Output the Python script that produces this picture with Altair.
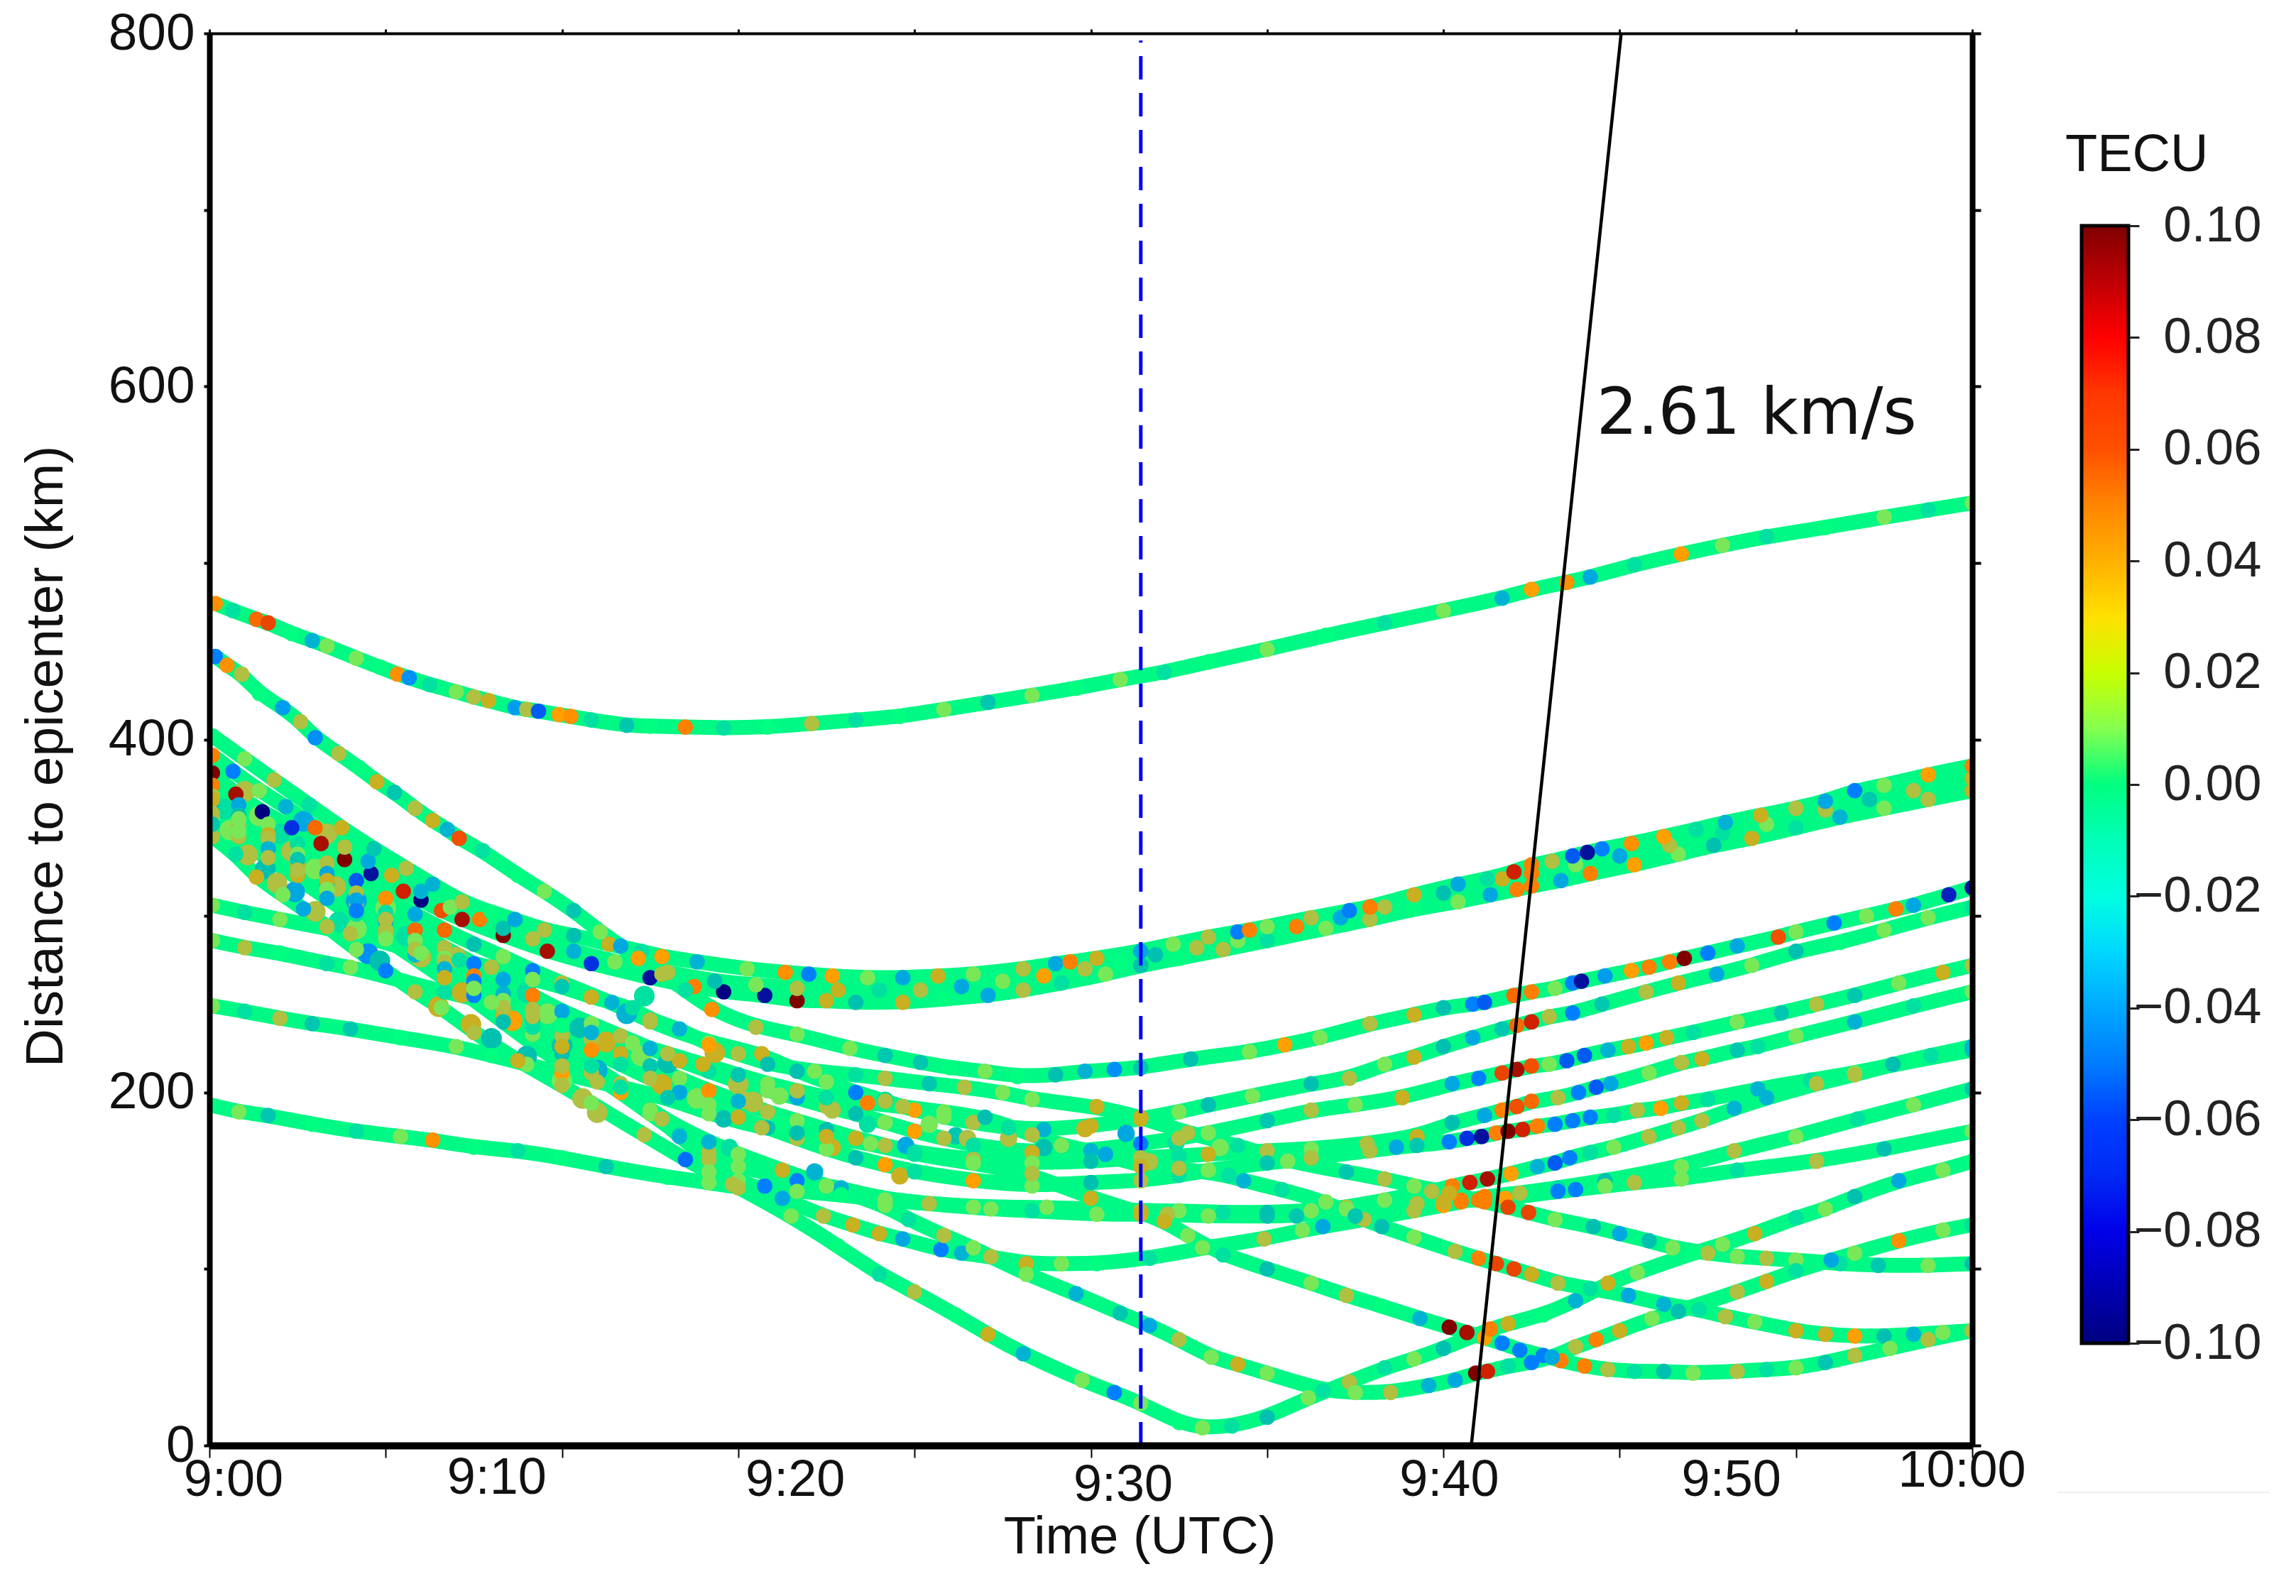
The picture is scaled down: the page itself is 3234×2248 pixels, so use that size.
import altair as alt
import pandas as pd

FONT = "Liberation Sans"
X_TICKS = [0, 6, 12, 18, 24, 30, 36, 42, 48, 54, 60]
Y_TICKS = [0, 100, 200, 300, 400, 500, 600, 700, 800]
BAR_TICKS = [-0.10, -0.08, -0.06, -0.04, -0.02, 0.00, 0.02, 0.04, 0.06, 0.08, 0.10]
BAR_STOPS = [-0.10, -0.08, -0.06, -0.04, -0.02, 0.00, 0.02, 0.03, 0.04, 0.06, 0.08, 0.10]
BAR_COLORS = ["#000080", "#0000e8", "#0040ff", "#00a8ff", "#00ffe0", "#00ff80", "#c8ff00",
              "#ffe000", "#ffb000", "#ff5000", "#ff0000", "#800000"]
DOT_STOPS = [-0.10, -0.07, -0.05, -0.035, -0.022, -0.012, 0.0, 0.012, 0.022, 0.03, 0.04, 0.05, 0.06, 0.08, 0.10]
DOT_COLORS = ["#000080", "#0030e0", "#0080ff", "#00a8e0", "#00c0b0", "#00e0a0", "#00ff80", "#78e858",
              "#b0c040", "#c8b020", "#ffa000", "#ff8000", "#f05000", "#d02000", "#800000"]

X_LABELS = ["9:00", "9:10", "9:20", "9:30", "9:40", "9:50", "10:00"]
X_LABEL_MIN = [0.82, 9.78, 19.94, 31.1, 42.2, 51.8, 59.65]
X_LABEL_KM = [-19.7, -18.5, -19.7, -22.5, -19.7, -19.7, -14.5]

A = [(0.2,477,.045),(0.8,473,-.012),(1.6,468,.055),(2.0,466,.065),(2.8,460,0),(3.5,456,-.03),(4.0,453,.012),(5.0,446,.012),(5.8,441,0),(6.4,437,.045),(6.8,435,-.045),(7.5,431,-.012),(8.4,427,.012),(9.0,424,.022),(9.5,422,.03),(10.4,418,-.04),(10.8,417,.022),(11.2,416,-.06),(11.9,414,.04),(12.3,413,.045),(13.0,411,-.012),(14.2,408,-.02),(15.0,407.5,0),(16.2,407,.05),(17.5,406.5,-.012),(19,407,0),(20.5,409,.022),(22,411,-.012),(23.5,413,0),(25,417,.012),(26.5,421,-.02),(28,425,.012),(29.5,429,0),(31,434,.012),(32.5,438,-.012),(34,444,0),(36,451,.012),(38,459,0),(40,466,-.012),(42,473,.012),(44,480,-.03),(45,485,.04),(46.2,489,.045),(47,492,-.035),(48.5,499,-.012),(50.1,505,.04),(51.5,510,.012),(53,515,-.012),(55,520,0),(57,526,.012),(58.5,530,-.012),(60,534,.012)]
T1B = [(0.1,381,.1),(0.9,369,.09),(1.8,359,-.1),(2.8,350,-.07),(3.8,341,.09),(4.6,332,.1),(5.5,324,-.09),(6.6,314,.08),(7.2,309,-.1),(7.9,303,.06),(8.6,298,.09),(10,289,.1),(11.5,280,.09),(13,273,-.07),(15,265,-.09),(16.5,260,.05),(17.5,257,-.1),(18.9,255,-.09),(20,252,.1),(21,252,.03),(22,251,-.022),(23.6,251,.03),(25,253,0),(26.5,255,-.035),(27.7,258,.022),(29,262,-.012),(30.5,267,.012),(31.7,272,-.022),(33,276,0),(34.5,281,.022),(36,286,-.012),(38,293,.012),(39.5,298,.022),(41,304,0),(42.5,308,.012),(43.6,312,-.035),(44.5,315,.05),(45,317,.05),(46,320,-.035),(47,324,.05),(48.5,329,.04),(50,335,.012),(51.2,340,-.022),(52.5,344,.03),(54,350,-.012),(55.5,356,-.03),(57,361,.012),(58.5,366,.022),(60,371,.03)]
T1A = [(0.1,402,0),(1.2,389,.012),(2.2,377,.022),(3.4,363,-.012),(4.5,350,.03),(5.6,338,-.02),(6.7,327,.022),(7.6,318,-.03),(8.6,308,.022),(9.6,302,0),(10.4,298,-.035),(11.4,292,.022),(12.4,289,-.022),(13.6,284,.03),(14.7,280,-.012),(15.4,277,.04),(16.6,274,-.03),(18.3,270,.012),(19.6,268,.045),(20.4,267,-.05),(21.2,266,.04),(22.4,265,.012),(23.6,265,-.035),(24.8,266,.03),(26,267,.012),(27.7,270,.022),(28.8,273,-.035),(29.3,274,.05),(30.2,276,.03),(31.7,280,-.035),(32.8,284,.012),(34,288,.022),(35,291,-.05),(35.4,292,.05),(36,294,.012),(37.5,299,.022),(38.8,303,-.05),(39.5,305,.05),(41,312,.03),(42.5,318,-.035),(43.5,321,-.012),(44.4,325,.08),(45,329,.05),(45.7,331,.022),(46.4,334,-.06),(46.9,336,-.09),(47.4,338,-.05),(48.4,341,.045),(49.5,345,.04),(50.6,349,-.012),(51.6,353,-.03),(52.8,357,.03),(54,361,.022),(55,365,-.035),(56,371,-.05),(57,374,.012),(58.5,380,.04),(60,385,.05)]
T1C = [(0.1,391,.05),(0.8,382,-.05),(1.7,371,.012),(2.6,362,-.03),(3.6,350,.055),(4.6,339,.022),(5.4,331,-.035),(6.2,323,.03),(7.2,314,-.03),(8.2,305,.012),(9.2,298,.05),(10,293,-.022),(11,287,.022),(12.4,280,-.03),(13.8,274,.012),(15.6,268,.022),(17.2,263,-.022),(18.6,261,.012),(20,259,.022),(21.4,258,.03),(22.8,258,-.012),(24.2,258,.022),(25.6,260,-.035),(27,263,.012),(28.4,266,.04),(29.8,270,.022),(31,274,0),(32.2,278,-.022),(33.6,282,.022),(35,286,.012),(37,294,.05),(38.5,299,-.035),(40,305,.022),(42,313,-.022),(44,321,.03),(45,324,.05),(46.5,329,.012),(48,334,-.035),(49.7,340,.022),(51.5,347,-.012),(53,352,.012),(55,360,.022),(56.5,366,-.02),(58,371,.022),(60,378,.03)]
TRK2 = [(0.2,447,-.05),(0.6,442,.045),(1.1,437,.022),(1.7,426,0),(2.5,418,-.04),(3.1,410,.022),(3.6,401,-.045),(4.4,392,.022),(5.1,384,0),(5.7,376,.03),(6.3,370,-.02),(7.0,361,.022),(7.6,354,.03),(8.1,349,-.03),(8.5,344,.06),(9.3,337,-.012),(10.5,323,0),(11.4,314,.012),(12.4,303,-.02),(13.3,291,.012),(14.0,283,-.035),(14.6,276,.04),(15.4,267,.022),(16.2,258,-.012),(17.1,247,.045),(18.6,237,.022),(20,233,.012),(21.8,225,.012),(23,221,-.02),(24.2,217,-.02),(25.2,214,0),(26.4,212,.012),(27.5,209,0),(28.8,210,-.022),(29.8,212,-.03),(30.8,213,-.045),(31.7,214,-.02),(33.4,219,-.022),(35.4,223,.012),(36.6,227,.04),(37.8,231,.012),(39.5,239,.022),(41,244,.03),(42,248,-.022),(43,250,-.05),(43.4,251,-.06),(44.4,255,.055),(45,257,.05),(45.8,259,.012),(46.4,262,-.05),(46.7,263,-.09),(47.5,266,-.04),(48.4,269,.04),(49,271,.05),(49.7,274,.05),(50.2,276,.1),(51,279,-.05),(52,283,-.035),(53.4,288,.06),(54,291,.012),(55.3,296,-.05),(56.4,300,.012),(57.4,304,.05),(58,306,-.035),(59.2,312,-.08),(60,316,-.09)]
TRK3 = [(0.1,374,.05),(1,363,-.035),(2,352,.012),(3,341,-.012),(4,330,.022),(5,320,-.06),(6,310,.045),(7,301,-.035),(8,292,.055),(9,284,-.022),(10,277,.012),(11,269,-.05),(12,262,.022),(13.7,251,-.03),(15,240,.022),(17,228,.012),(18.8,222,.03),(20,212,-.022),(21,206,.012),(22,200,-.05),(23,195,.022),(24,190,.04),(25,186,.012),(26,183,.022),(27.2,180,-.012),(28.4,179,-.03),(30,181,.03),(31.7,185,.03),(33,189,.012),(34,193,-.022),(35.5,198,.012),(37.5,205,-.022),(38.8,208,.022),(40,216,.012),(41,220,.03),(42,226,-.022),(43,231,-.035),(44,236,-.02),(44.5,238,.055),(45,240,.08),(45.6,243,.022),(46.4,245,-.05),(47.4,250,-.02),(48.9,257,.022),(50,262,.03),(51.3,267,-.035),(52.5,272,.012),(54,280,-.022),(55.5,285,0),(57,292,.012),(58.5,299,.012),(60,305,-.012)]
TRK4 = [(0.1,368,.022),(1,357,-.022),(2,346,.03),(3,335,.012),(4,324,-.035),(5,313,.022),(6,302,-.012),(7,292,.055),(8,282,.022),(9,273,-.05),(10,264,-.035),(11,255,.05),(12,246,-.035),(13,239,.012),(14,232,.022),(15,225,-.03),(16,218,.03),(17,212,-.012),(18,206,.022),(19,201,.012),(20,197,-.035),(21,192,.022),(22,188,-.022),(23,183,.012),(24,178,.04),(25,174,.022),(26,170,-.012),(28,166,.03),(30,167,-.03),(31.7,171,-.05),(33,174,.022),(34,177,.012),(36,184,-.02),(37.5,190,.022),(39,193,.012),(40.6,197,.03),(42.3,205,-.035),(43.2,208,-.05),(44,211,.065),(44.5,213,.09),(45,215,.06),(45.6,216,.012),(46.2,218,-.06),(46.8,221,-.06),(47.6,224,-.03),(48.3,226,.03),(48.9,228,.04),(49.6,231,.03),(50.5,234,-.012),(52,240,.012),(53.5,245,-.02),(54.7,250,.022),(56,255,-.02),(57.5,262,.012),(59,268,.03),(60,272,.022)]
TRK5 = [(0.1,362,-.02),(1,351,.022),(2,340,-.012),(3,329,.03),(4,318,-.02),(5,307,.022),(6,297,-.05),(7,286,.022),(8,276,.012),(9,266,.05),(10,256,-.03),(11,247,.022),(12,238,-.012),(13,230,.022),(14,222,.03),(15,215,-.02),(16,208,.012),(17,201,.045),(18,195,-.03),(19,189,.022),(20,184,.012),(21,179,-.022),(22,174,.03),(23,170,.022),(24,166,-.012),(26,162,.022),(28,160,.012),(30,161,-.022),(31.7,163,.022),(33,164,-.012),(34,165,.03),(36,167,.022),(37.5,168,.012),(39.4,171,.022),(41.1,175,.03),(42.3,183,-.022),(43.4,187,-.035),(44,190,.05),(44.5,192,.06),(45,195,.055),(45.9,197,.022),(46.6,200,-.05),(47.2,203,-.06),(47.7,205,-.035),(49,211,.012),(50.1,217,.022),(50.8,219,.03),(52,224,-.02),(52.7,226,-.012),(54,232,.012),(56,240,-.03),(58,249,-.012),(60,257,.012)]
TRK6 = [(0.1,366,.03),(1,355,.012),(2,344,.022),(3,332,-.02),(4,320,.03),(5,309,-.035),(6,298,.022),(7,286,.012),(8,274,.022),(9,263,-.05),(10,252,.012),(11,242,-.035),(12,232,.022),(13,224,.045),(14,216,-.012),(15,208,.022),(16,200,-.035),(17,193,.012),(18,186,.03),(19,180,-.022),(20,174,.022),(21,168,.012),(22,163,-.022),(23,159,.04),(24,155,-.012),(26,150,.04),(28,147,.012),(30,149,-.022),(31.7,150,.022),(33,153,-.012),(34,156,.012),(36,160,-.02),(37.5,163,.022),(39.5,167,.022),(40.4,169,-.035),(41.1,170,-.02),(42.2,172,-.05),(42.8,174,-.07),(43.3,175,-.09),(43.8,177,.05),(44.2,178,.1),(44.7,179,.08),(45.2,181,.05),(45.8,182,-.05),(46.4,184,-.05),(47,186,-.05),(47.8,187,-.012),(48.6,190,.022),(49.4,191,.04),(50.1,194,.03),(51,196,-.012),(52.7,202,-.03),(54.5,207,-.012),(56,211,.012),(58,218,0),(60,224,-.022)]
TRK7 = [(0.1,355,.012),(1,345,.022),(2,335,0),(3,323,.03),(4,312,.022),(5,301,-.012),(6,290,.022),(7,278,-.03),(8,266,.012),(9,255,-.05),(10,244,.03),(11,233,.012),(12,222,-.022),(13,211,.022),(14,200,.04),(15,188,.012),(16,176,-.012),(17,166,.022),(18,158,.012),(20,150,-.05),(21.5,146,-.03),(23,139,.022),(26,135,.012),(28.5,135,.012),(31.7,133,.022),(33,133,.012),(34.5,132,-.012),(36,132,-.022),(37.5,133,.012),(38.7,135,.022),(40,139,.012),(41.6,144,.022),(42.3,147,.05),(42.9,149,.08),(43.5,151,.09),(44.3,154,.04),(45.2,158,-.03),(45.8,160,-.06),(46.3,163,-.05),(47,166,-.012),(47.8,169,.012),(49,175,.022),(50,180,.022),(50.8,184,.022),(51.9,191,-.03),(53,197,-.03),(54.7,205,.022),(56,210,.022),(57.3,216,-.022),(58.6,221,-.012),(60,226,-.03)]
TRK8A = [(0.1,358,.022),(1,348,.012),(2,338,-.03),(3,326,.022),(4,315,.012),(5,303,-.05),(6,292,.022),(7,281,.022),(8,270,-.03),(9,259,.012),(10,248,.022),(11,237,-.012),(12,226,.03),(13,215,-.012),(14,205,.022),(15,190,.012),(16,175,-.03),(17,162,.022),(18,150,.012),(19.5,140,-.035),(20.9,130,.022),(21.9,125,.03),(22.8,120,.03),(23.6,117,-.035),(24.9,111,-.05),(25.6,109,-.03),(26.6,107,.022),(27.8,103,.03),(29,103,.012),(30.2,103,0),(32,106,-.012),(33.8,112,.012),(35.9,117,.022),(37.2,122,.012),(37.9,124,-.035),(39.3,128,.022),(41,133,.022),(42,136,.04),(42.6,138,.05),(43.4,141,.05),(44.6,143,.022),(45.9,146,-.012),(47.5,150,-.022),(50.1,158,.012),(51.9,167,.022),(54,175,.012),(56.1,185,-.012),(58,193,.012),(60,202,-.02)]
TRK8B = [(0,193,0),(1,189,.012),(2,187,-.02),(3.5,182,0),(5,178,-.012),(6.5,175,.012),(7.6,173,.045),(9,169,0),(10.5,167,-.012),(12,163,0),(13.5,158,-.02),(15.6,152,0),(17,149,.012),(18,146,.022),(18.9,147,-.05),(20,144,.012),(21.5,142,0),(23,139,.012),(24.5,137,.022),(26.6,134,.012),(28,133,-.012),(30.2,131,.012),(31.7,131,.03),(32.6,131,.022),(34,130,.012),(36,130,-.022),(37,130,-.02),(38.7,134,.012),(41.1,137,.022),(42,138,.03),(42.6,139,.05),(43.2,139,.05),(44.1,140,.04),(45.9,144,-.05),(46.5,145,-.05),(47.5,147,.012),(48.5,149,.022),(50.1,151,.012),(52,156,-.012),(54.7,161,.022),(57,168,-.022),(60,178,.012)]
TRK_F3 = [(0.1,306,.012),(1.2,302,-.012),(2.4,298,.012),(4,293,0),(4.8,290,.022),(6,285,0),(7.2,279,.012),(8.5,275,-.012),(9.6,271,.022),(11,264,.012),(12,260,-.02),(13,254,.03),(14.4,248,-.012),(15,241,.022),(16,236,-.03),(17,227,.04),(18,222,.022),(19,216,-.022),(20.6,212,.012),(22,210,-.012),(23,208,.022),(24.5,205,-.02),(25.7,203,.022),(27,200,.012),(28,196,.012),(30.2,192,.03),(31.7,186,.03),(33.3,177,.022),(35,170,-.012),(36.7,161,.012),(38.7,155,-.02),(40,151,.022),(41,147,.012),(42.2,143,.03),(43.4,138,.05),(44.2,135,.065),(44.9,132,.065),(45.8,128,.012),(47.1,124,-.022),(48,120,-.035),(49,116,-.022),(49.8,112,.012),(51,109,.022),(52,107,.012),(53,106,.022),(54,105,.012),(55.5,103,-.012),(56.8,102,-.02),(58.5,102,.012),(60,103,-.022)]
TRK_F2 = [(0.1,286,.012),(1.2,282,.022),(2.4,279,0),(4,273,-.012),(4.8,271,.012),(6.6,263,0),(8,257,-.012),(9.6,251,.012),(11,243,.022),(12,238,0),(13,234,-.03),(14.4,228,.012),(15.6,222,.022),(16.8,216,.03),(18,210,-.02),(19,205,.012),(20,201,.022),(21,197,-.012),(22.4,194,.05),(23.6,192,.022),(25,189,.012),(26.4,186,-.022),(28,176,.022),(29,170,.012),(30.5,165,-.035),(31.7,158,.03),(33,157,.022),(34.7,153,-.012),(35.2,150,-.03),(36.5,145,-.012),(38,138,.012),(39,130,-.02),(39.9,124,-.022),(41,118,.012),(42.4,110,.022),(43.2,106,.05),(43.8,103,.065),(44.4,100,.065),(45,97,.03),(45.9,92,.022),(47,89,-.012),(48.3,85,-.035),(49.5,80,-.03),(50.7,77,-.012),(51.6,73,.022),(52.6,70,.012),(54,65,.03),(55,63,.03),(56,62,.04),(57,62,-.022),(58,63,-.03),(59,64,.012),(60,65,.022)]
TRK_F1 = [(0.1,249,.012),(1.2,246,-.012),(2.4,242,.022),(3.5,239,-.02),(4.8,236,-.02),(6.5,231,0),(8.4,226,.012),(9.6,221,0),(10.8,216,.012),(12,211,.04),(13.2,206,.022),(15.6,197,-.02),(17,188,.012),(18.8,180,.022),(20,177,-.022),(21,175,.03),(22.5,171,.012),(24,165,-.012),(26,160,.012),(28,154,.022),(30,140,.03),(31.7,132,.03),(32.5,127,.03),(33.3,119,.012),(34.5,108,-.012),(36,100,-.022),(37.5,92,.012),(38.7,85,.022),(39.9,79,0),(41.2,72,-.03),(42.2,67,.1),(42.8,64,.09),(43.4,61,.04),(44,58,-.05),(44.6,54,-.05),(45.4,51,-.05),(46,48,.05),(46.8,45,.05),(47.6,43,.022),(48.5,42,-.012),(49.5,42,-.022),(50.5,41,.012),(52,42,.022),(53,43,-.012),(54,44,.012),(55,47,-.02),(56,51,.022),(57.2,55,.012),(58.5,60,.022),(60,65,.022)]
TRK_S1 = [(0.1,345,.022),(0.9,335,-.012),(1.6,322,.03),(2.5,312,.012),(3.2,304,-.035),(4,294,.022),(5,281,.012),(6,269,-.05),(7,257,.022),(7.9,248,.012),(9,234,.022),(10.5,218,.03),(12,204,.022),(13,194,.012),(14.8,176,.022),(16.2,162,-.055),(17,155,.012),(17.8,148,.022),(19.8,130,.012),(21.4,113,0),(22.8,97,-.012),(24,87,.022),(25.4,74,0),(26.5,63,.03),(27.7,52,-.03),(29.7,37,.012),(30.8,30,-.05),(31.7,24,.012),(33,13,0),(33.8,10,.012),(34.8,11,-.012),(36,16,-.022),(37.4,27,.012),(38.8,36,.022),(40,44,-.012),(41,49,.012),(42,55,-.022),(43.6,66,.05),(44.2,69,.03),(45.4,74,0),(46.5,82,-.03),(47.6,92,.03),(48.6,98,.012),(50.5,109,0),(51.5,114,.012),(52.6,120,.03),(54,129,-.012),(55,134,.012),(56,141,-.022),(57.5,150,-.035),(59,156,.012),(60,161,0)]
TRK_R8 = [(0.1,352,-.02),(2,333,.022),(4,310,-.035),(6,287,.012),(8,265,.03),(10,240,-.022),(12,215,.022),(14,203,-.012),(15.4,185,.022),(17,172,-.03),(18,165,.012),(19.5,156,.03),(21,147,.012),(23,136,.012),(23.8,128,-.012),(25,119,.022),(26,112,.012),(27.8,97,.012),(29.5,86,-.03),(31,75,-.02),(32,68,-.035),(33,60,.022),(34.1,50,.012),(35,46,.03),(36,41,.012),(37.9,31,-.012),(39,30,.012),(40.2,30,.022),(41.5,34,-.03),(42.4,37,-.035),(43.1,41,.1),(43.5,42,.08),(44.2,45,-.012),(45,47,-.05),(45.7,50,-.035),(46.5,56,.022),(47.2,60,.05),(48,65,.03),(49.1,72,.012),(50,76,-.022),(52,87,.022),(53,93,.03),(54,99,-.012),(55.2,105,-.035),(56,109,.012),(57.5,116,.045),(59,122,.012),(60,125,-.012)]

BLOBS_LEFT = [(1.3,334.6,.022),(1.9,326.6,-.022),(2.9,313.6,-.035),(2.3,318.6,.022),(4,346.6,.022),(3.2,353.6,-.035),(5,308.6,-.04),(5.4,278.6,-.045),(5.8,274.6,-.022),(2.8,336.6,.022),(0.7,348.6,.012),(0.5,360.6,-.012),(1.2,370.6,.022),(1.7,356.6,.012),(2.4,346.6,-.012),(3.6,326.6,.012),(4.3,316.6,.022),(3.6,302.6,.022),(4.4,296.6,-.012),(5,292.6,.012),(6,304.6,.012),(6.7,288.6,-.012),(7.2,276.6,.022),(8.4,276.6,.022),(8.6,256.6,.03),(7.8,248.6,.03),(8.9,238.6,.03),(9.6,230.6,-.022),(10.8,256.6,-.012),(11.5,244.6,.012),(10.3,240.6,.04),(10.8,220.6,-.022),(12,226.6,-.022),(12.6,236.6,-.022),(13.5,228.6,.03),(13.2,212.6,-.03),(14.7,220.6,.012),(15.6,216.6,-.022),(17.2,222.6,.03),(15.4,204.6,.03),(16.6,196.6,.012),(18,204.6,.022),(18.5,194.6,.022),(12.7,196.6,.022),(14.2,244.6,-.03),(14.8,254.6,-.012),(12,206.6,.012),(13.2,188.6,.022)]
BLOBS_MID = [(18.2,195.6,.022),(19.4,182,0),(21.2,168.8,.03),(22.4,182,-.012),(23.7,170,-.035),(25.4,175.5,-.02),(25.8,174,.022),(24.5,182,.012),(23,195.6,-.012),(21.2,190,.022),(19.4,198,.012),(17.5,185,-.022),(17.7,168.8,-.012),(20.6,155,-.03),(23.5,152.7,.03),(27.2,174,.022),(28.4,168.8,-.022),(29.8,179.5,.03),(31.2,176.8,-.035),(32.9,171.4,-.012),(34.4,168.8,.012),(32,160.7,.022)]

TRACKS = [("a", A), ("t1b", T1B), ("t1c", T1C), ("t1a", T1A), ("t2", TRK2), ("t3", TRK3), ("t4", TRK4),
          ("t5", TRK5), ("t6", TRK6), ("t7", TRK7), ("t8a", TRK8A), ("t8b", TRK8B), ("f3", TRK_F3),
          ("f2", TRK_F2), ("f1", TRK_F1), ("s1", TRK_S1), ("r8", TRK_R8)]

rows = []
for name, pts in TRACKS:
    for m, k, v in pts:
        rows.append({"track": name, "minute": m, "km": k, "tecu": v})
df = pd.DataFrame(rows)
blobs_left = pd.DataFrame(BLOBS_LEFT, columns=["minute", "km", "tecu"])
blobs_mid = pd.DataFrame(BLOBS_MID, columns=["minute", "km", "tecu"])

XS = alt.Scale(domain=[0, 60], nice=False, zero=False)
YS = alt.Scale(domain=[0, 800], nice=False, zero=False)
X0 = alt.X("minute:Q", scale=XS, axis=None)
Y0 = alt.Y("km:Q", scale=YS, axis=None)
DOT_SCALE = alt.Scale(domain=DOT_STOPS, range=DOT_COLORS)

bands = alt.Chart(df).mark_line(strokeWidth=21, color="#00f884", clip=True, interpolate="basis").encode(
    x=alt.X("minute:Q", scale=XS, axis=alt.Axis(
        orient="bottom", values=X_TICKS, labels=False, tickSize=17, tickWidth=2, tickColor="black",
        domainColor="black", domainWidth=10, grid=False, zindex=1, title="Time (UTC)", titleFont=FONT,
        titleFontSize=74, titleFontWeight="normal", titleColor="#111", titleX=1310, titleY=129,
        titleBaseline="middle")),
    y=alt.Y("km:Q", scale=YS, axis=alt.Axis(
        orient="left", values=Y_TICKS, labelExpr="datum.value % 200 == 0 ? datum.value : ''",
        labelFont=FONT, labelFontSize=73, labelColor="#111", labelPadding=13, tickSize=8, tickWidth=4,
        tickColor="black", domainColor="black", domainWidth=8, grid=False, zindex=1,
        title="Distance to epicenter (km)", titleFont=FONT, titleFontSize=75, titleFontWeight="normal",
        titleColor="#111", titleX=-231, titleY=1018, titleAngle=270, titleBaseline="middle")),
    detail="track:N", order="minute:Q")

blob_l = alt.Chart(blobs_left).mark_circle(size=850, opacity=1, clip=True).encode(
    x=X0, y=Y0, color=alt.Color("tecu:Q", legend=None, scale=DOT_SCALE))
blob_m = alt.Chart(blobs_mid).mark_circle(size=600, opacity=1, clip=True).encode(
    x=X0, y=Y0, color=alt.Color("tecu:Q", legend=None, scale=DOT_SCALE))
dots = alt.Chart(df).mark_circle(size=470, opacity=1, clip=True).encode(
    x=X0, y=Y0, color=alt.Color("tecu:Q", legend=None, scale=DOT_SCALE))

frame = alt.Chart(pd.DataFrame({"minute": [0], "km": [0]})).mark_point(opacity=0).encode(
    x=alt.X("minute:Q", scale=XS, axis=alt.Axis(
        orient="top", values=X_TICKS, labels=False, tickSize=6, tickWidth=3, tickColor="black",
        domainColor="black", domainWidth=4, grid=False, zindex=1, title=None)),
    y=alt.Y("km:Q", scale=YS, axis=alt.Axis(
        orient="right", values=Y_TICKS, labels=False, tickSize=12, tickWidth=4, tickColor="black",
        domainColor="black", domainWidth=8, grid=False, zindex=1, title=None)))

blue = alt.Chart(pd.DataFrame({"minute": [31.7], "km": [0], "km2": [796]})).mark_rule(
    color="#0000ff", strokeWidth=5, strokeDash=[33, 19]).encode(x=X0, y=Y0, y2="km2:Q")

wave = alt.Chart(pd.DataFrame({"minute": [42.95], "minute2": [48.05], "km": [0], "km2": [800]})).mark_rule(
    color="black", strokeWidth=4.5).encode(x=X0, x2="minute2:Q", y=Y0, y2="km2:Q")

speed = alt.Chart(pd.DataFrame({"minute": [52.66], "km": [584], "t": ["2.61 km/s"]})).mark_text(
    font="DejaVu Sans", fontSize=91, color="#111", align="center", baseline="middle").encode(x=X0, y=Y0, text="t:N")

xlabels = alt.Chart(pd.DataFrame({"minute": X_LABEL_MIN, "km": X_LABEL_KM, "t": X_LABELS})).mark_text(
    font=FONT, fontSize=72, color="#111", align="center", baseline="middle").encode(x=X0, y=Y0, text="t:N")

tecu_title = alt.Chart(pd.DataFrame({"minute": [65.6], "km": [731], "t": ["TECU"]})).mark_text(
    font=FONT, fontSize=74, color="#111", align="center", baseline="middle").encode(x=X0, y=Y0, text="t:N")

bar = alt.Chart(pd.DataFrame({"v": BAR_TICKS})).mark_point(opacity=0).encode(
    x=alt.value(2640), y=alt.value(300),
    color=alt.Color("v:Q", scale=alt.Scale(domain=BAR_STOPS, range=BAR_COLORS), legend=alt.Legend(
        title=None, orient="none", legendX=2637, legendY=271, direction="vertical", gradientLength=1574,
        gradientThickness=66, gradientStrokeColor="black", gradientStrokeWidth=5, values=BAR_TICKS,
        labelExpr="''", labelFontSize=10)))

bar_ticks = alt.Chart(pd.DataFrame({"v": BAR_TICKS})).mark_rule(color="black", strokeWidth=2, opacity=0.6).encode(
    x=alt.value(2640), x2=alt.value(2703),
    y=alt.Y("v:Q", scale=alt.Scale(domain=[-0.1, 0.1], range=[1845, 271]), axis=alt.Axis(
        orient="right", offset=220, values=BAR_TICKS, format=".2f", domain=False, grid=False, title=None,
        tickSize=15, tickWidth=3, tickColor="#222", labelFont=FONT, labelFontSize=71, labelColor="#222",
        labelAlign="right", labelBaseline="middle", labelPadding=172, labelFlush=False, labelBound=False,
        labelOverlap=False, labelLimit=300, zindex=1)))

faint = alt.Chart(pd.DataFrame({"minute": [62.9], "minute2": [70.1], "km": [-26.5]})).mark_rule(
    color="#eeeeee", strokeWidth=2).encode(x=X0, x2="minute2:Q", y=Y0)

chart = alt.layer(bands, blob_l, blob_m, dots, frame, blue, wave, speed, xlabels, tecu_title, bar, bar_ticks, faint).resolve_scale(
    x="independent", y="independent", color="independent"
).properties(
    width=2483, height=1989,
    padding={"left": 287, "top": 39, "right": 440, "bottom": 200},
    autosize=alt.AutoSizeParams(type="none"),
    background="white",
).configure_view(stroke=None)

chart.save("out.html", embed_options={"renderer": "svg", "actions": False})
